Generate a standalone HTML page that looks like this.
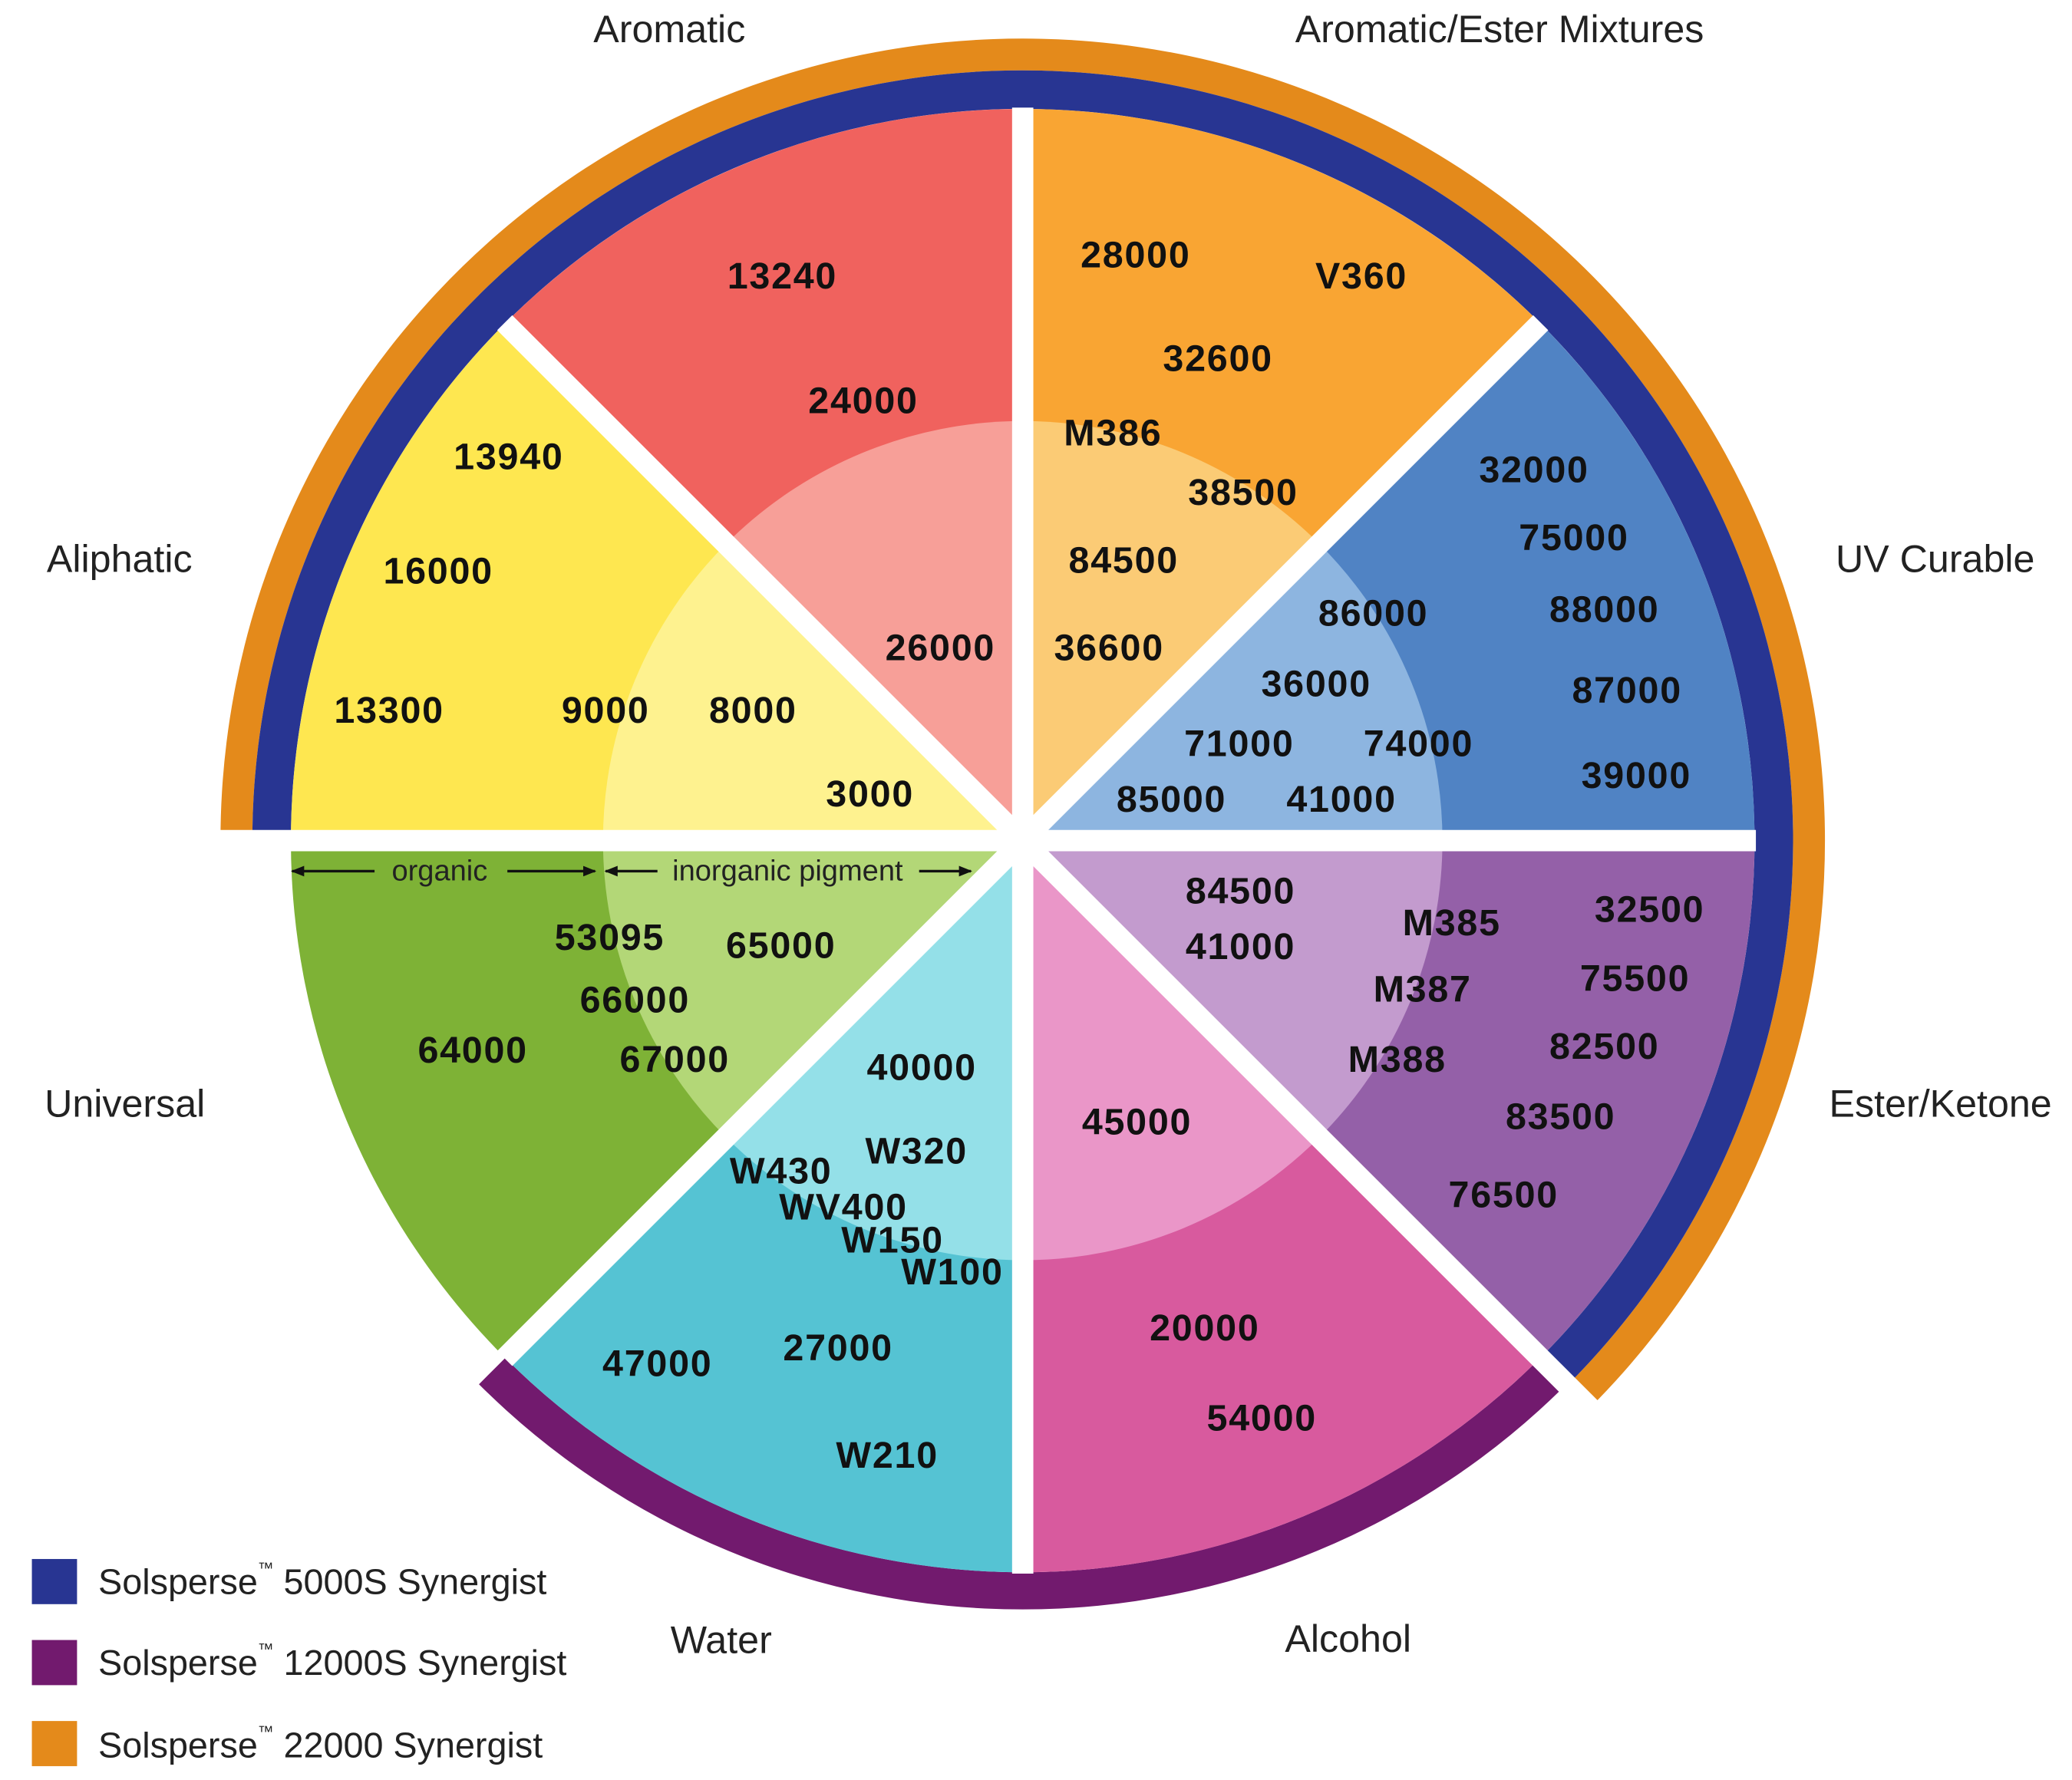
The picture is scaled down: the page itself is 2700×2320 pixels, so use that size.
<!DOCTYPE html>
<html><head><meta charset="utf-8"><style>
html,body{margin:0;padding:0;background:#fff;}
svg{display:block;}
text{font-family:"Liberation Sans",sans-serif;}
.n{font-size:28px;font-weight:bold;fill:#111;text-anchor:middle;dominant-baseline:central;letter-spacing:1px;}
.c{font-size:29px;fill:#222;text-anchor:middle;dominant-baseline:central;}
.s{font-size:22px;fill:#222;text-anchor:middle;dominant-baseline:central;}
.l{font-size:27px;fill:#222;dominant-baseline:central;}
</style></head><body>
<svg width="2700" height="2320" viewBox="0 0 1560 1340.4" xmlns="http://www.w3.org/2000/svg">
<defs>
<marker id="ah" markerWidth="10" markerHeight="10" refX="9" refY="5" orient="auto" markerUnits="userSpaceOnUse"><path d="M0,1 L10,5 L0,9 Z" fill="#111"/></marker>
</defs>
<!-- rings -->
<path d="M166,633 A604,604 0 1 1 1197.1,1060.1 L1180.1,1043.1 A580,580 0 1 0 190,633 Z" fill="#E48A1B"/>
<path d="M190,633 A580,580 0 1 1 1180.1,1043.1 L1159.6,1022.6 A551,551 0 1 0 219,633 Z" fill="#283592"/>
<path d="M1179.4,1042.4 A579,579 0 0 1 360.6,1042.4 L380.4,1022.6 A551,551 0 0 0 1159.6,1022.6 Z" fill="#721A6E"/>
<!-- outer sectors -->
<path d="M770,633 L770,82 A551,551 0 0 1 1159.6,243.4 Z" fill="#F9A533"/>
<path d="M770,633 L1159.6,243.4 A551,551 0 0 1 1321,633 Z" fill="#5083C4"/>
<path d="M770,633 L1321,633 A551,551 0 0 1 1159.6,1022.6 Z" fill="#9460A8"/>
<path d="M770,633 L1159.6,1022.6 A551,551 0 0 1 770,1184 Z" fill="#D85A9E"/>
<path d="M770,633 L770,1184 A551,551 0 0 1 380.4,1022.6 Z" fill="#55C3D3"/>
<path d="M770,633 L380.4,1022.6 A551,551 0 0 1 219,633 Z" fill="#7EB236"/>
<path d="M770,633 L219,633 A551,551 0 0 1 380.4,243.4 Z" fill="#FEE750"/>
<path d="M770,633 L380.4,243.4 A551,551 0 0 1 770,82 Z" fill="#F0625E"/>
<!-- inner sectors -->
<path d="M770,633 L770,317 A316,316 0 0 1 993.4,409.6 Z" fill="#FBCB75"/>
<path d="M770,633 L993.4,409.6 A316,316 0 0 1 1086,633 Z" fill="#8DB5E0"/>
<path d="M770,633 L1086,633 A316,316 0 0 1 993.4,856.4 Z" fill="#C39BCE"/>
<path d="M770,633 L993.4,856.4 A316,316 0 0 1 770,949 Z" fill="#EA96C8"/>
<path d="M770,633 L770,949 A316,316 0 0 1 546.6,856.4 Z" fill="#94E0E8"/>
<path d="M770,633 L546.6,856.4 A316,316 0 0 1 454,633 Z" fill="#B3D777"/>
<path d="M770,633 L454,633 A316,316 0 0 1 546.6,409.6 Z" fill="#FEF28F"/>
<path d="M770,633 L546.6,409.6 A316,316 0 0 1 770,317 Z" fill="#F79F98"/>
<!-- separators (only within wedges, except ring ends) -->
<g stroke="#fff" stroke-width="16">
<line x1="150" y1="633" x2="770" y2="633"/>
<line x1="770" y1="633" x2="1322" y2="633"/>
<line x1="770" y1="81" x2="770" y2="1185"/>
<line x1="380" y1="243" x2="1208" y2="1071"/>
<line x1="1160" y1="243" x2="380" y2="1023"/>
</g>
<!-- organic arrows -->
<g stroke="#111" stroke-width="2" fill="none">
<line x1="282" y1="656" x2="220" y2="656" marker-end="url(#ah)"/>
<line x1="382" y1="656" x2="448" y2="656" marker-end="url(#ah)"/>
<line x1="495" y1="656" x2="456" y2="656" marker-end="url(#ah)"/>
<line x1="692" y1="656" x2="731" y2="656" marker-end="url(#ah)"/>
</g>
<text class="s" x="331" y="656">organic</text>
<text class="s" x="593" y="656">inorganic pigment</text>
<!-- numbers -->
<g>
<text class="n" x="589" y="208">13240</text>
<text class="n" x="650" y="302">24000</text>
<text class="n" x="708" y="488">26000</text>
<text class="n" x="855" y="192">28000</text>
<text class="n" x="1025" y="208">V360</text>
<text class="n" x="917" y="270">32600</text>
<text class="n" x="838" y="326">M386</text>
<text class="n" x="936" y="371">38500</text>
<text class="n" x="846" y="422">84500</text>
<text class="n" x="835" y="488">36600</text>
<text class="n" x="1155" y="354">32000</text>
<text class="n" x="1185" y="405">75000</text>
<text class="n" x="1034" y="462">86000</text>
<text class="n" x="1208" y="459">88000</text>
<text class="n" x="991" y="515">36000</text>
<text class="n" x="1225" y="520">87000</text>
<text class="n" x="933" y="560">71000</text>
<text class="n" x="1068" y="560">74000</text>
<text class="n" x="1232" y="584">39000</text>
<text class="n" x="882" y="602">85000</text>
<text class="n" x="1010" y="602">41000</text>
<text class="n" x="383" y="344">13940</text>
<text class="n" x="330" y="430">16000</text>
<text class="n" x="293" y="535">13300</text>
<text class="n" x="456" y="535">9000</text>
<text class="n" x="567" y="535">8000</text>
<text class="n" x="655" y="598">3000</text>
<text class="n" x="934" y="671">84500</text>
<text class="n" x="934" y="713">41000</text>
<text class="n" x="1093" y="695">M385</text>
<text class="n" x="1242" y="685">32500</text>
<text class="n" x="1071" y="745">M387</text>
<text class="n" x="1231" y="737">75500</text>
<text class="n" x="1052" y="798">M388</text>
<text class="n" x="1208" y="788">82500</text>
<text class="n" x="1175" y="841">83500</text>
<text class="n" x="1132" y="900">76500</text>
<text class="n" x="856" y="845">45000</text>
<text class="n" x="907" y="1000">20000</text>
<text class="n" x="950" y="1068">54000</text>
<text class="n" x="694" y="804">40000</text>
<text class="n" x="690" y="867">W320</text>
<text class="n" x="588" y="882">W430</text>
<text class="n" x="635" y="909">WV400</text>
<text class="n" x="672" y="934">W150</text>
<text class="n" x="717" y="958">W100</text>
<text class="n" x="495" y="1027">47000</text>
<text class="n" x="631" y="1015">27000</text>
<text class="n" x="668" y="1096">W210</text>
<text class="n" x="459" y="706">53095</text>
<text class="n" x="588" y="712">65000</text>
<text class="n" x="478" y="753">66000</text>
<text class="n" x="356" y="791">64000</text>
<text class="n" x="508" y="798">67000</text>
</g>
<!-- categories -->
<text class="c" x="504" y="22">Aromatic</text>
<text class="c" x="1129" y="22">Aromatic/Ester Mixtures</text>
<text class="c" x="90" y="421">Aliphatic</text>
<text class="c" x="1457" y="421">UV Curable</text>
<text class="c" x="94" y="831">Universal</text>
<text class="c" x="1461" y="831">Ester/Ketone</text>
<text class="c" x="543" y="1235">Water</text>
<text class="c" x="1015" y="1234">Alcohol</text>
<!-- legend -->
<rect x="24" y="1174" width="34" height="34" fill="#283592"/>
<rect x="24" y="1235" width="34" height="34" fill="#721A6E"/>
<rect x="24" y="1296" width="34" height="34" fill="#E48A1B"/>
<text class="l" x="74" y="1191">Solsperse<tspan font-size="12" dy="-10">™</tspan><tspan dy="10"> 5000S Synergist</tspan></text>
<text class="l" x="74" y="1252">Solsperse<tspan font-size="12" dy="-10">™</tspan><tspan dy="10"> 12000S Synergist</tspan></text>
<text class="l" x="74" y="1314">Solsperse<tspan font-size="12" dy="-10">™</tspan><tspan dy="10"> 22000 Synergist</tspan></text>
</svg>
</body></html>
